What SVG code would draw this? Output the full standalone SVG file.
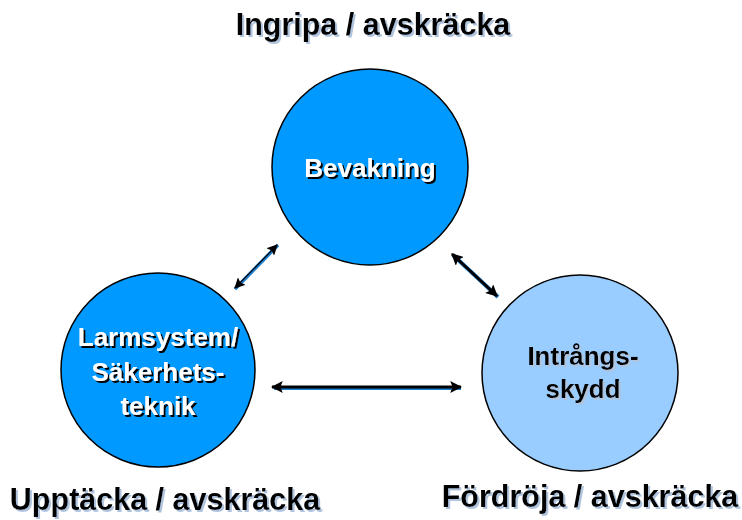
<svg xmlns="http://www.w3.org/2000/svg" width="742" height="520" viewBox="0 0 742 520">
<defs>
<marker id="ah" viewBox="0 0 10 10" refX="9" refY="5" markerWidth="4" markerHeight="4" orient="auto-start-reverse" markerUnits="strokeWidth"><path d="M0,0 L10,5 L0,10 L2,5 z" fill="#000"/></marker>
<marker id="ahs" viewBox="0 0 10 10" refX="9" refY="5" markerWidth="9" markerHeight="9" orient="auto-start-reverse" markerUnits="strokeWidth"><path d="M0,0 L10,5 L0,10 L2,5 z" fill="#000"/></marker>
<filter id="shL" x="-10%" y="-30%" width="120%" height="160%"><feDropShadow dx="2" dy="2" stdDeviation="0" flood-color="#b0c4de"/></filter>
<filter id="shD" x="-10%" y="-30%" width="120%" height="160%"><feDropShadow dx="2" dy="2" stdDeviation="0" flood-color="#000"/></filter>
</defs>
<style>
.c{stroke:#000;stroke-width:1.5}
.t{font-family:"Liberation Sans",Arial,sans-serif;font-weight:bold;text-anchor:middle}
.lbl{font-size:30.5px;fill:#000;filter:url(#shL)}
.w{font-size:26px;fill:#fff;filter:url(#shD)}
.b{font-size:26px;fill:#000;filter:url(#shL)}
</style>
<rect width="742" height="520" fill="#fff"/>
<g id="labels">
<text class="t lbl" x="373" y="35">Ingripa / avskräcka</text>
<text class="t lbl" x="165" y="510">Upptäcka / avskräcka</text>
<text class="t lbl" x="590" y="507">Fördröja / avskräcka</text>
</g>
<g id="bevakning">
<circle class="c" cx="370" cy="167" r="98" fill="#0099ff"/>
<text class="t w" x="370" y="177">Bevakning</text>
</g>
<g id="larmsystem">
<circle class="c" cx="158" cy="370" r="97" fill="#0099ff"/>
<text class="t w" x="158" y="346">Larmsystem/</text>
<text class="t w" x="158" y="381">Säkerhets-</text>
<text class="t w" x="158" y="415">teknik</text>
</g>
<g id="intrangsskydd">
<circle class="c" cx="580" cy="373" r="98" fill="#99ccff"/>
<text class="t b" x="583" y="365">Intrångs-</text>
<text class="t b" x="583" y="398">skydd</text>
</g>
<g id="connectors">
<line x1="235" y1="289" x2="278" y2="245" stroke="#1a7fd0" stroke-width="3.5"/>
<line x1="235" y1="288" x2="277" y2="245" stroke="#000" stroke-width="1.2" marker-start="url(#ahs)" marker-end="url(#ahs)"/>
<line x1="453" y1="255" x2="498" y2="297" stroke="#1a7fd0" stroke-width="4"/>
<line x1="452" y1="254" x2="497" y2="296" stroke="#000" stroke-width="3" marker-start="url(#ah)" marker-end="url(#ah)"/>
<line x1="274" y1="388" x2="461" y2="388" stroke="#1a7fd0" stroke-width="4"/>
<line x1="272" y1="387" x2="461" y2="387" stroke="#000" stroke-width="3" marker-start="url(#ah)" marker-end="url(#ah)"/>
</g>
</svg>
